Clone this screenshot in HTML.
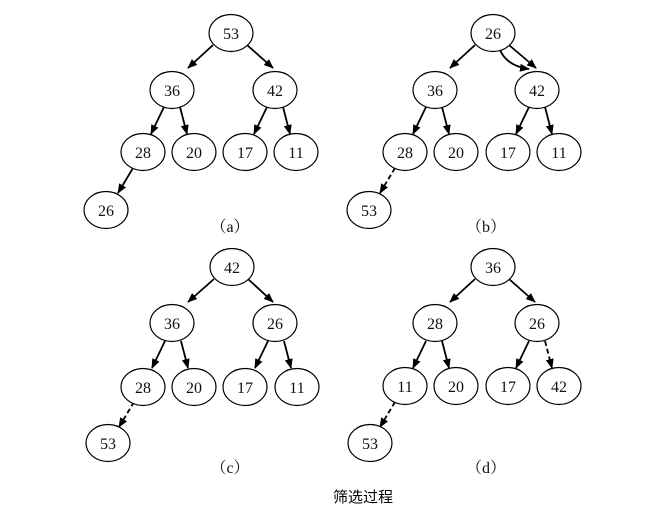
<!DOCTYPE html>
<html><head><meta charset="utf-8"><style>
html,body{margin:0;padding:0;background:#fff;}
svg{display:block;}
text{font-family:"Liberation Serif","Noto Serif CJK SC",serif;font-size:16px;fill:#111;text-anchor:middle;}
.cap{font-family:"Liberation Sans","Noto Sans CJK SC",sans-serif;font-size:15px;fill:#000;}
ellipse{fill:#fff;stroke:#000;stroke-width:1.2;}
line,path{stroke:#000;stroke-width:1.8;fill:none;}
.d{stroke-dasharray:5,3;}
</style></head><body>
<svg width="655" height="513" viewBox="0 0 655 513" xmlns="http://www.w3.org/2000/svg">
<defs>
<marker id="ah" markerWidth="10" markerHeight="8" refX="9" refY="4" orient="auto" markerUnits="userSpaceOnUse">
<path d="M0,0 L10,4 L0,8 Z" style="fill:#000;stroke:none"/>
</marker>
</defs>

<!-- Tree a -->
<g transform="translate(231,33)">
<line x1="-18" y1="12" x2="-43" y2="35" marker-end="url(#ah)"/>
<line x1="16" y1="12" x2="42" y2="35" marker-end="url(#ah)"/>
<line x1="-67" y1="74" x2="-80" y2="101" marker-end="url(#ah)"/>
<line x1="-51" y1="74" x2="-44" y2="101" marker-end="url(#ah)"/>
<line x1="36" y1="74" x2="23" y2="101" marker-end="url(#ah)"/>
<line x1="52" y1="74" x2="59" y2="101" marker-end="url(#ah)"/>
<line x1="-98" y1="135" x2="-113" y2="160" marker-end="url(#ah)"/>
<ellipse cx="0" cy="0" rx="22" ry="18.5"/><text x="0" y="6">53</text>
<ellipse cx="-59" cy="57" rx="22" ry="18.5"/><text x="-59" y="63">36</text>
<ellipse cx="44" cy="57" rx="22" ry="18.5"/><text x="44" y="63">42</text>
<ellipse cx="-88" cy="119" rx="22" ry="18.5"/><text x="-88" y="125">28</text>
<ellipse cx="-37" cy="119" rx="22" ry="18.5"/><text x="-37" y="125">20</text>
<ellipse cx="14" cy="119" rx="22" ry="18.5"/><text x="14" y="125">17</text>
<ellipse cx="65" cy="119" rx="22" ry="18.5"/><text x="65" y="125">11</text>
<ellipse cx="-125" cy="177" rx="22" ry="18.5"/><text x="-125" y="183">26</text>
<text x="-1" y="199">（a）</text>
</g>

<!-- Tree b -->
<g transform="translate(493,33)">
<line x1="-18" y1="12" x2="-43" y2="35" marker-end="url(#ah)"/>
<line x1="16" y1="12" x2="43" y2="35" marker-end="url(#ah)"/>
<path d="M7,17 Q14,33 36,36" marker-end="url(#ah)"/>
<line x1="-67" y1="74" x2="-80" y2="101" marker-end="url(#ah)"/>
<line x1="-51" y1="74" x2="-44" y2="101" marker-end="url(#ah)"/>
<line x1="36" y1="74" x2="23" y2="101" marker-end="url(#ah)"/>
<line x1="52" y1="74" x2="59" y2="101" marker-end="url(#ah)"/>
<line class="d" x1="-98" y1="135" x2="-113" y2="160" marker-end="url(#ah)"/>
<ellipse cx="0" cy="0" rx="22" ry="18.5"/><text x="0" y="6">26</text>
<ellipse cx="-58" cy="57" rx="22" ry="18.5"/><text x="-58" y="63">36</text>
<ellipse cx="44" cy="57" rx="22" ry="18.5"/><text x="44" y="63">42</text>
<ellipse cx="-88" cy="119" rx="22" ry="18.5"/><text x="-88" y="125">28</text>
<ellipse cx="-37" cy="119" rx="22" ry="18.5"/><text x="-37" y="125">20</text>
<ellipse cx="15" cy="119" rx="22" ry="18.5"/><text x="15" y="125">17</text>
<ellipse cx="66" cy="119" rx="22" ry="18.5"/><text x="66" y="125">11</text>
<ellipse cx="-124" cy="177" rx="22" ry="18.5"/><text x="-124" y="183">53</text>
<text x="-7" y="199">（b）</text>
</g>

<!-- Tree c -->
<g transform="translate(232,267)">
<line x1="-18" y1="12" x2="-44" y2="35" marker-end="url(#ah)"/>
<line x1="16" y1="12" x2="41" y2="35" marker-end="url(#ah)"/>
<line x1="-67" y1="74" x2="-80" y2="101" marker-end="url(#ah)"/>
<line x1="-51" y1="74" x2="-44" y2="101" marker-end="url(#ah)"/>
<line x1="36" y1="74" x2="23" y2="101" marker-end="url(#ah)"/>
<line x1="52" y1="74" x2="59" y2="101" marker-end="url(#ah)"/>
<line class="d" x1="-98" y1="135" x2="-113" y2="160" marker-end="url(#ah)"/>
<ellipse cx="0" cy="0" rx="22" ry="18.5"/><text x="0" y="6">42</text>
<ellipse cx="-60" cy="56" rx="22" ry="18.5"/><text x="-60" y="62">36</text>
<ellipse cx="43" cy="56" rx="22" ry="18.5"/><text x="43" y="62">26</text>
<ellipse cx="-89" cy="120" rx="22" ry="18.5"/><text x="-89" y="126">28</text>
<ellipse cx="-38" cy="120" rx="22" ry="18.5"/><text x="-38" y="126">20</text>
<ellipse cx="13" cy="120" rx="22" ry="18.5"/><text x="13" y="126">17</text>
<ellipse cx="65" cy="120" rx="22" ry="18.5"/><text x="65" y="126">11</text>
<ellipse cx="-124" cy="176" rx="22" ry="18.5"/><text x="-124" y="182">53</text>
<text x="-2" y="206">（c）</text>
</g>

<!-- Tree d -->
<g transform="translate(493,267)">
<line x1="-18" y1="12" x2="-43" y2="35" marker-end="url(#ah)"/>
<line x1="16" y1="12" x2="42" y2="35" marker-end="url(#ah)"/>
<line x1="-67" y1="74" x2="-80" y2="101" marker-end="url(#ah)"/>
<line x1="-51" y1="74" x2="-44" y2="101" marker-end="url(#ah)"/>
<line x1="36" y1="74" x2="23" y2="101" marker-end="url(#ah)"/>
<line class="d" x1="52" y1="74" x2="59" y2="101" marker-end="url(#ah)"/>
<line class="d" x1="-98" y1="135" x2="-113" y2="160" marker-end="url(#ah)"/>
<ellipse cx="0" cy="0" rx="22" ry="18.5"/><text x="0" y="6">36</text>
<ellipse cx="-58" cy="56" rx="22" ry="18.5"/><text x="-58" y="62">28</text>
<ellipse cx="44" cy="56" rx="22" ry="18.5"/><text x="44" y="62">26</text>
<ellipse cx="-88" cy="119" rx="22" ry="18.5"/><text x="-88" y="125">11</text>
<ellipse cx="-37" cy="119" rx="22" ry="18.5"/><text x="-37" y="125">20</text>
<ellipse cx="15" cy="119" rx="22" ry="18.5"/><text x="15" y="125">17</text>
<ellipse cx="66" cy="119" rx="22" ry="18.5"/><text x="66" y="125">42</text>
<ellipse cx="-123" cy="176" rx="22" ry="18.5"/><text x="-123" y="182">53</text>
<text x="-7" y="206">（d）</text>
</g>

<text class="cap" x="363" y="502">筛选过程</text>
</svg>
</body></html>
